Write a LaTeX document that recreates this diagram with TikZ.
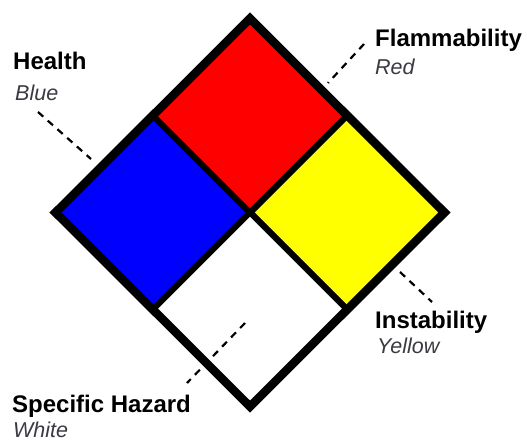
\documentclass[tikz,border=0pt]{standalone}
\usepackage{fontspec}
\setmainfont{Liberation Sans}
\usetikzlibrary{shapes.geometric,positioning}
\definecolor{nfpablue}{RGB}{0,0,255}
\definecolor{nfpared}{RGB}{255,0,0}
\definecolor{nfpayellow}{RGB}{255,255,0}
\definecolor{capgray}{RGB}{58,58,66}

\begin{document}
\begin{tikzpicture}[x=1pt, y=-1pt,
  quad/.style={diamond, aspect=1, draw=black, line width=6pt,
    minimum width=194pt, minimum height=194pt, inner sep=0pt, outer sep=0pt},
  hazard/.style={font=\fontsize{24}{24}\selectfont\bfseries, anchor=base west,
    inner sep=0pt, text=black},
  colname/.style={font=\fontsize{21.5}{21.5}\selectfont\itshape, anchor=base west,
    inner sep=0pt, text=capgray},
  leader/.style={line width=2.2pt, dash pattern=on 7pt off 6pt}
]
\useasboundingbox (0,0) rectangle (527,441);

% the four quadrants
\node[quad, fill=nfpablue] (healthq) at (152.5,212.5) {};
\node[quad, fill=nfpared] (flamq) at (250,115.5) {};
\node[quad, fill=nfpayellow] (instq) at (347.5,212.5) {};
\node[quad, fill=white] (specq) at (250,309.5) {};
\draw[line width=8.5pt, line join=miter]
  (healthq.west) -- (flamq.north) -- (instq.east) -- (specq.south) -- cycle;

% labels
\node[hazard] (health) at (13,70) {Health};
\node[colname] (blue) at (15,101) {Blue};
\node[hazard] (flam) at (375,47) {Flammability};
\node[colname] (red) at (375,75) {Red};
\node[hazard] (inst) at (375,328) {Instability};
\node[colname] (yellow) at (377,353) {Yellow};
\node[hazard] (spec) at (12,412) {Specific Hazard};
\node[colname] (white) at (13,437) {White};

% leaders
\coordinate (hlA) at (38,112);  \coordinate (hlB) at (91,159);
\coordinate (flA) at (364,44);  \coordinate (flB) at (328,83);
\coordinate (ilA) at (400,272); \coordinate (ilB) at (432,302);
\coordinate (slA) at (245,323); \coordinate (slB) at (187,383);
\draw[leader] (hlA) -- (hlB);
\draw[leader] (flA) -- (flB);
\draw[leader] (ilA) -- (ilB);
\draw[leader] (slA) -- (slB);
\end{tikzpicture}
\end{document}
